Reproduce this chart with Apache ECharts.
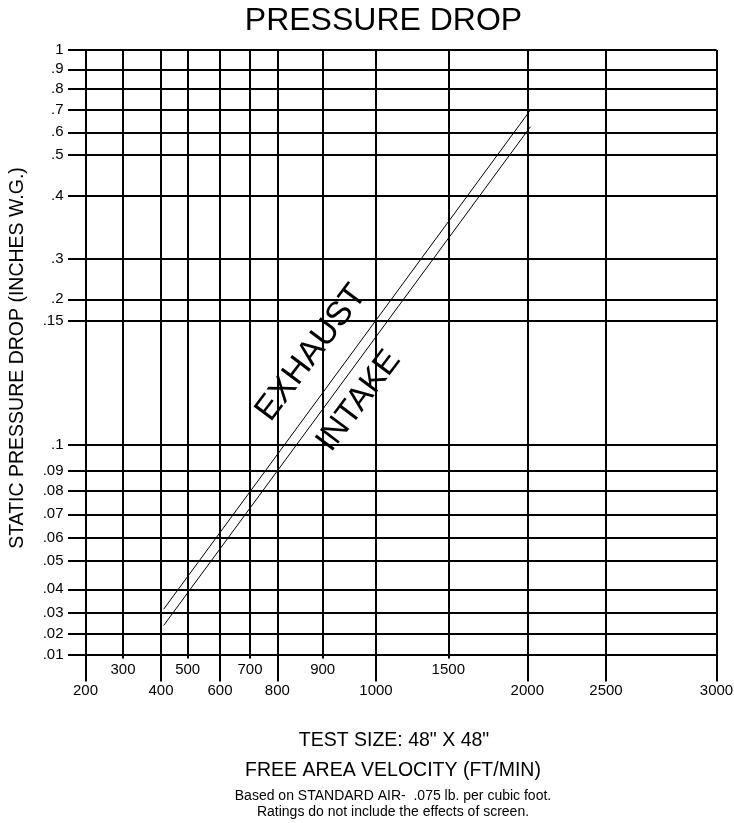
<!DOCTYPE html>
<html>
<head>
<meta charset="utf-8">
<script src="https://cdn.jsdelivr.net/npm/echarts@6/dist/echarts.min.js"></script>
<style>
html,body{margin:0;padding:0;background:#fff;}
#chart{width:734px;height:823px;}
</style>
</head>
<body>
<div id="chart"></div>
<script>
// ---- data ----
const xTickValues = [200, 300, 400, 500, 600, 700, 800, 900, 1000, 1500, 2000, 2500, 3000];
const xUpperLabels = [300, 500, 700, 900, 1500];
const xLowerLabels = [200, 400, 600, 800, 1000, 2000, 2500, 3000];
const yTickValues = [0.01, 0.02, 0.03, 0.04, 0.05, 0.06, 0.07, 0.08, 0.09, 0.1, 0.15, 0.2, 0.3, 0.4, 0.5, 0.6, 0.7, 0.8, 0.9, 1];
const yTickLabels = ['.01', '.02', '.03', '.04', '.05', '.06', '.07', '.08', '.09', '.1', '.15', '.2', '.3', '.4', '.5', '.6', '.7', '.8', '.9', '1'];

const exhaustVelocity = [410, 2015];
const exhaustPressure = [0.0315, 0.695];
const intakeVelocity = [410, 2020];
const intakePressure = [0.024, 0.625];

// annotation anchors (velocity, pressure)
const exhaustLabelAt = [875, 0.137];
const intakeLabelAt = [968, 0.1177];

// ---- the chart's own (hand-drawn, non-uniform) axis scales: tick value -> axis unit ----
const xScaleStops = [0, 37.5, 75.5, 102.2, 134.5, 164.5, 191.8, 237.2, 290.5, 362.8, 441.8, 520.5, 631];
const yScaleStops = [0, 21, 42.3, 65.7, 94, 117.3, 140.7, 164, 184, 210, 334.3, 355.7, 396, 459, 500.3, 522.7, 545, 566, 585.7, 605];

function interp(v, vals, stops) {
  if (v <= vals[0]) return stops[0];
  for (let i = 1; i < vals.length; i++) {
    if (v <= vals[i]) {
      const t = (v - vals[i - 1]) / (vals[i] - vals[i - 1]);
      return stops[i - 1] + t * (stops[i] - stops[i - 1]);
    }
  }
  return stops[stops.length - 1];
}
const xs = v => interp(v, xTickValues, xScaleStops);
const ys = v => interp(v, yTickValues, yScaleStops);
function labelFor(value, stops, labels) {
  for (let i = 0; i < stops.length; i++) {
    if (Math.abs(stops[i] - value) < 1e-6) return String(labels[i]);
  }
  return '';
}

const FONT = 'Liberation Sans, Arial, Helvetica, sans-serif';
const chart = echarts.init(document.getElementById('chart'), null, {renderer: 'canvas'});

const option = {
  animation: false,
  backgroundColor: '#fff',
  title: {
    text: 'PRESSURE DROP',
    left: 383.5, top: 5, padding: 0,
    textAlign: 'center',
    textStyle: {fontFamily: FONT, fontSize: 32, fontWeight: 'normal', color: '#000'}
  },
  grid: {left: 85.5, right: 17.5, top: 50, bottom: 168, containLabel: false, outerBoundsMode: 'none'},
  xAxis: [
    {
      type: 'value', min: 0, max: xScaleStops[xScaleStops.length - 1],
      axisLine: {show: true, lineStyle: {color: '#000', width: 2}},
      axisTick: {show: true, length: 3.5, lineStyle: {color: '#000', width: 2}, customValues: xTickValues.map(xs)},
      splitLine: {show: true, lineStyle: {color: '#000', width: 2}},
      axisLabel: {
        show: true, margin: 7, color: '#000', fontFamily: FONT, fontSize: 15,
        customValues: xUpperLabels.map(xs),
        formatter: v => labelFor(v, xScaleStops, xTickValues)
      }
    },
    {
      type: 'value', min: 0, max: xScaleStops[xScaleStops.length - 1], position: 'bottom',
      axisLine: {show: false},
      axisTick: {show: true, length: 26.5, lineStyle: {color: '#000', width: 2}, customValues: xLowerLabels.map(xs)},
      splitLine: {show: false},
      axisLabel: {
        show: true, margin: 28.5, color: '#000', fontFamily: FONT, fontSize: 15,
        customValues: xLowerLabels.map(xs),
        formatter: v => labelFor(v, xScaleStops, xTickValues)
      }
    }
  ],
  yAxis: {
    type: 'value', min: 0, max: yScaleStops[yScaleStops.length - 1],
    axisLine: {show: true, lineStyle: {color: '#000', width: 2}},
    axisTick: {show: true, length: 17.5, lineStyle: {color: '#000', width: 2}, customValues: yScaleStops.slice()},
    splitLine: {show: true, lineStyle: {color: '#000', width: 2}},
    axisLabel: {
      show: true, margin: 22, color: '#000', fontFamily: FONT, fontSize: 15,
      customValues: yScaleStops.slice(),
      formatter: v => labelFor(v, yScaleStops, yTickLabels)
    }
  },
  series: [
    {
      name: 'EXHAUST', type: 'line', xAxisIndex: 0, symbol: 'none', silent: true,
      lineStyle: {color: '#000', width: 1},
      data: exhaustVelocity.map((v, i) => [xs(v), ys(exhaustPressure[i])]),
      markPoint: {
        symbol: 'circle', symbolSize: 0, silent: true,
        data: [{coord: [xs(exhaustLabelAt[0]), ys(exhaustLabelAt[1])]}],
        label: {show: true, position: 'inside', formatter: 'EXHAUST', rotate: 53, color: '#000', fontFamily: FONT, fontSize: 34}
      }
    },
    {
      name: 'INTAKE', type: 'line', xAxisIndex: 0, symbol: 'none', silent: true,
      lineStyle: {color: '#000', width: 1},
      data: intakeVelocity.map((v, i) => [xs(v), ys(intakePressure[i])]),
      markPoint: {
        symbol: 'circle', symbolSize: 0, silent: true,
        data: [{coord: [xs(intakeLabelAt[0]), ys(intakeLabelAt[1])]}],
        label: {show: true, position: 'inside', formatter: 'INTAKE', rotate: 53, color: '#000', fontFamily: FONT, fontSize: 33}
      }
    }
  ],
  graphic: [
    {type: 'text', x: 18, y: 358, rotation: Math.PI / 2, silent: true,
      style: {text: 'STATIC PRESSURE DROP (INCHES W.G.)', fill: '#000', font: '19.5px ' + FONT, textAlign: 'center', textVerticalAlign: 'middle'}},
    {type: 'text', x: 394, y: 741, silent: true,
      style: {text: 'TEST SIZE: 48" X 48"', fill: '#000', font: '19.5px ' + FONT, textAlign: 'center', textVerticalAlign: 'middle'}},
    {type: 'text', x: 393, y: 771, silent: true,
      style: {text: 'FREE AREA VELOCITY (FT/MIN)', fill: '#000', font: '19.5px ' + FONT, textAlign: 'center', textVerticalAlign: 'middle'}},
    {type: 'text', x: 393, y: 796, silent: true,
      style: {text: 'Based on STANDARD AIR-  .075 lb. per cubic foot.', fill: '#000', font: '14px ' + FONT, textAlign: 'center', textVerticalAlign: 'middle'}},
    {type: 'text', x: 393, y: 812, silent: true,
      style: {text: 'Ratings do not include the effects of screen.', fill: '#000', font: '14px ' + FONT, textAlign: 'center', textVerticalAlign: 'middle'}}
  ]
};
chart.setOption(option);
</script>
</body>
</html>
